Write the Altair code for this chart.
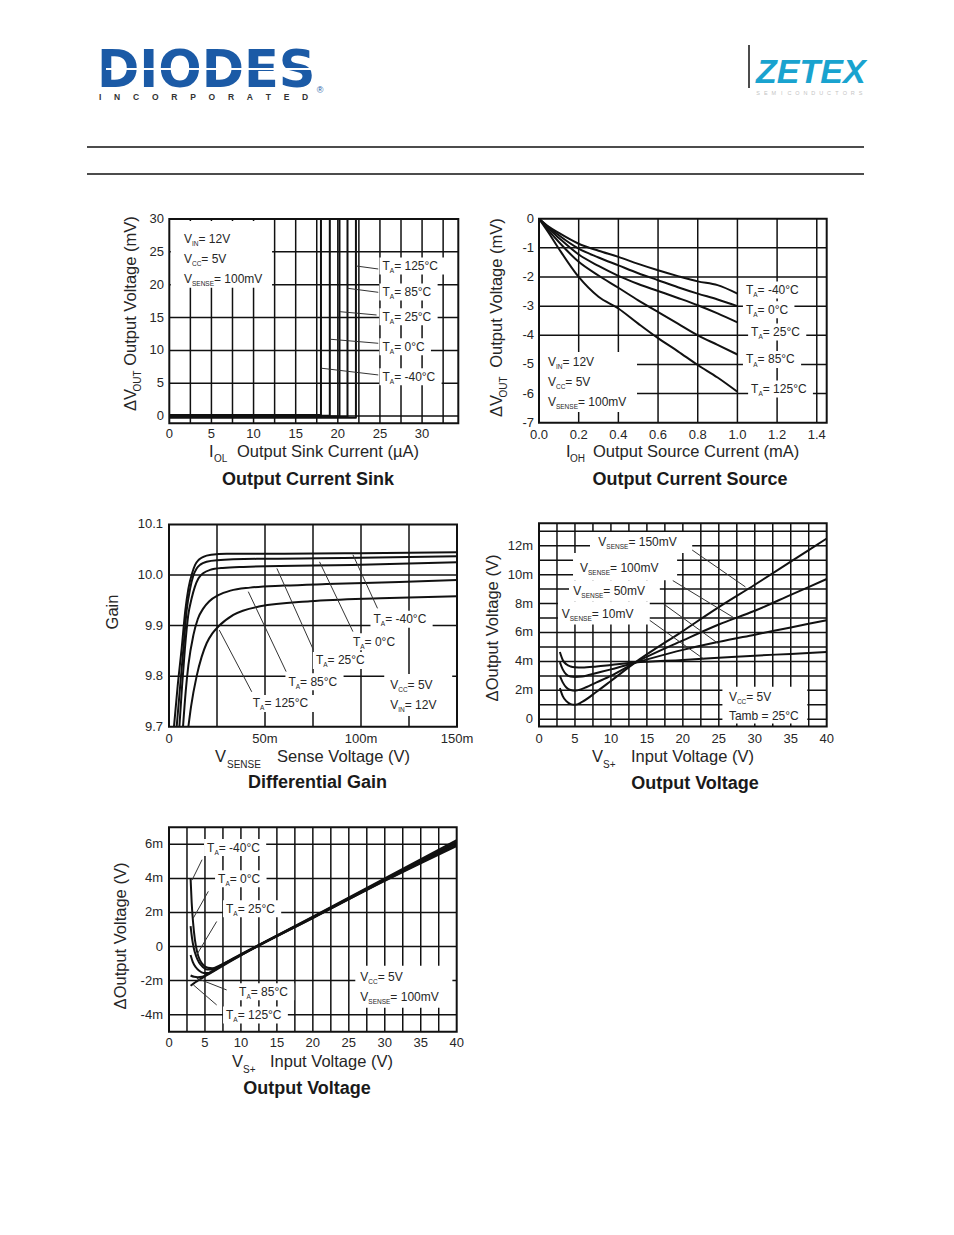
import altair as alt
import pandas as pd

M = 8
PAGE_W, PAGE_H = 954, 1235
FONT = "Liberation Sans"
INK = "#111111"
TXT = "#262626"

# ---------------- data ----------------
# Panel 1: Output Current Sink
sink_temps = ["-40°C", "0°C", "25°C", "85°C", "125°C"]
sink_knee_uA = [18.0, 19.05, 20.2, 21.15, 22.15]
sink_base_mV = [0.15, 0.05, -0.05, -0.15, -0.25]
sink_top_mV = [30, 30, 30, 30, 30]

# Panel 2: Output Current Source
src_I_mA = [0.0, 0.05, 0.1, 0.2, 0.3, 0.4, 0.5, 0.6, 0.7, 0.8, 0.9, 1.0]
src_m40 = [0, -0.28, -0.49, -0.86, -1.10, -1.31, -1.55, -1.77, -1.97, -2.15, -2.28, -2.57]
src_0 = [0, -0.30, -0.57, -1.03, -1.33, -1.60, -1.87, -2.11, -2.35, -2.57, -2.77, -3.00]
src_25 = [0, -0.35, -0.66, -1.23, -1.62, -1.96, -2.24, -2.48, -2.72, -2.97, -3.25, -3.56]
src_85 = [0, -0.42, -0.80, -1.48, -1.95, -2.37, -2.80, -3.20, -3.60, -4.00, -4.33, -4.66]
src_125 = [0, -0.50, -1.03, -2.00, -2.68, -3.08, -3.60, -4.10, -4.55, -5.02, -5.45, -5.94]

# Panel 3: Differential Gain (x in mV)
gain_m40_mV = [2.6, 4.5, 6.6, 8.5, 10.1, 12, 13.6, 15.5, 17.9, 22, 30, 60, 100, 150]
gain_m40 = [9.70, 9.78, 9.855, 9.93, 9.973, 10.003, 10.02, 10.03, 10.036, 10.040, 10.042, 10.042, 10.043, 10.045]
gain_0_mV = [4.0, 5.8, 7.5, 9.2, 11, 12.6, 14.4, 16.5, 19.6, 25, 47.5, 100, 150]
gain_0 = [9.70, 9.78, 9.855, 9.93, 9.973, 9.998, 10.013, 10.021, 10.026, 10.029, 10.032, 10.034, 10.037]
gain_25_mV = [5.4, 6.8, 8.3, 10, 11.8, 13.5, 15.3, 18, 21.4, 28, 38.8, 100, 150]
gain_25 = [9.70, 9.78, 9.855, 9.92, 9.954, 9.977, 9.993, 10.004, 10.01, 10.014, 10.016, 10.02, 10.025]
gain_85_mV = [7.3, 8.7, 10.1, 12.7, 15, 17.9, 21, 25.7, 32, 42.2, 60, 82, 120, 150]
gain_85 = [9.70, 9.77, 9.822, 9.881, 9.913, 9.934, 9.948, 9.96, 9.969, 9.975, 9.979, 9.982, 9.986, 9.99]
gain_125_mV = [10.1, 11.5, 14.4, 17, 19.6, 22.5, 25.7, 33.5, 47.5, 73.5, 110, 150]
gain_125 = [9.70, 9.74, 9.80, 9.838, 9.865, 9.884, 9.898, 9.921, 9.938, 9.948, 9.954, 9.958]

# Panel 4: Output Voltage vs input voltage, per V_SENSE (mV of dVout)
vin_V = [2.9, 3.3, 3.8, 4.4, 5, 6, 8, 10, 13.3, 20, 25, 30, 35, 40]
out_150 = [2.15, 1.6, 1.25, 1.05, 1.0, 1.2, 1.9, 2.65, 3.9, 6.1, 7.75, 9.3, 10.9, 12.5]
out_100 = [3.0, 2.55, 2.2, 2.02, 1.98, 2.1, 2.55, 3.0, 3.9, 5.45, 6.55, 7.5, 8.6, 9.7]
out_50 = [3.95, 3.45, 3.1, 2.95, 2.92, 2.95, 3.2, 3.45, 3.9, 4.8, 5.35, 5.85, 6.35, 6.85]
out_10 = [4.65, 4.1, 3.8, 3.65, 3.6, 3.58, 3.65, 3.75, 3.92, 4.1, 4.25, 4.4, 4.52, 4.65]

# Panel 5: Output Voltage vs input voltage, per temperature (mV of dVout)
t_m40_V = [3.0, 3.15, 3.35, 3.6, 3.9, 4.3, 4.8, 5.4, 6.0, 7.0, 10, 20, 30, 40]
t_m40 = [4.0, 2.6, 1.4, 0.4, -0.3, -0.8, -1.1, -1.25, -1.28, -1.12, -0.45, 1.75, 4.0, 6.25]
t_0_V = [3.0, 3.2, 3.45, 3.8, 4.2, 4.7, 5.3, 6.0, 7.0, 10, 20, 30, 40]
t_0 = [1.2, 0.5, -0.1, -0.6, -0.95, -1.2, -1.35, -1.35, -1.15, -0.47, 1.73, 3.95, 6.15]
t_25_V = [3.0, 3.3, 3.7, 4.2, 4.8, 5.5, 6.3, 7.0, 10, 20, 30, 40]
t_25 = [-0.5, -0.9, -1.2, -1.42, -1.55, -1.55, -1.4, -1.2, -0.49, 1.71, 3.92, 6.08]
t_85_V = [3.0, 3.5, 4.0, 4.6, 5.2, 6.0, 7.0, 10, 20, 30, 40]
t_85 = [-1.7, -1.78, -1.8, -1.78, -1.65, -1.45, -1.2, -0.5, 1.69, 3.88, 5.98]
t_125_V = [3.0, 3.5, 4.0, 4.6, 5.2, 6.0, 7.0, 10, 20, 30, 40]
t_125 = [-2.3, -2.15, -2.0, -1.85, -1.7, -1.5, -1.25, -0.52, 1.67, 3.85, 5.9]

# tick labels
p1_x_ticks = [0, 5, 10, 15, 20, 25, 30]
p1_y_ticks = [0, 5, 10, 15, 20, 25, 30]
p2_x_ticks = [0.0, 0.2, 0.4, 0.6, 0.8, 1.0, 1.2, 1.4]
p2_x_labels = ["0.0", "0.2", "0.4", "0.6", "0.8", "1.0", "1.2", "1.4"]
p2_y_ticks = [0, -1, -2, -3, -4, -5, -6, -7]
p3_x_ticks = [0, 50, 100, 150]
p3_x_labels = ["0", "50m", "100m", "150m"]
p3_y_ticks = [9.7, 9.8, 9.9, 10.0, 10.1]
p3_y_labels = ["9.7", "9.8", "9.9", "10.0", "10.1"]
p4_x_ticks = [0, 5, 10, 15, 20, 25, 30, 35, 40]
p4_y_ticks = [0, 2, 4, 6, 8, 10, 12]
p4_y_labels = ["0", "2m", "4m", "6m", "8m", "10m", "12m"]
p5_x_ticks = [0, 5, 10, 15, 20, 25, 30, 35, 40]
p5_y_ticks = [-4, -2, 0, 2, 4, 6]
p5_y_labels = ["-4m", "-2m", "0", "2m", "4m", "6m"]

# ---------------- layout ----------------
G = {
    "p1": dict(xd=[0, 34.3], xr=[169.3, 458.3], yd=[-1.1, 30], yr=[423.3, 219.0]),
    "p2": dict(xd=[0, 1.45], xr=[539.0, 826.7], yd=[-7, 0], yr=[422.7, 218.7]),
    "p3": dict(xd=[0, 150], xr=[169.0, 457.0], yd=[9.7, 10.1], yr=[726.7, 524.4]),
    "p4": dict(xd=[0, 40], xr=[539.0, 826.7], yd=[-0.5, 13.55], yr=[726.5, 523.3]),
    "p5": dict(xd=[0, 40], xr=[169.0, 456.7], yd=[-5, 7], yr=[1031.7, 827.3]),
}

CW = {' ': .278, '=': .584, '-': .333, '.': .278, '°': .4, '(': .333, ')': .333, '+': .584,
      'µ': .576, 'Δ': .668, 'A': .667, 'C': .722, 'E': .667, 'I': .278, 'N': .722, 'O': .778,
      'S': .667, 'T': .611, 'V': .667, 'H': .722, 'L': .556, 'U': .722, 'm': .833, 'a': .556,
      'b': .556, 'i': .222, 'l': .222, 'r': .333, 't': .278}


def tw(s, size):
    return size * sum(CW.get(c, 0.556) for c in s)


def sc(d, r):
    return alt.Scale(domain=list(d), range=[r[0] - M, r[1] - M], nice=False, zero=False)


def ex(p, f="x"):
    return alt.X(f"{f}:Q", scale=sc(G[p]["xd"], G[p]["xr"]), axis=None)


def ey(p, f="y"):
    return alt.Y(f"{f}:Q", scale=sc(G[p]["yd"], G[p]["yr"]), axis=None)


def px_x():
    return alt.X("x:Q", scale=alt.Scale(domain=[0, PAGE_W], range=[-M, PAGE_W - M], nice=False, zero=False), axis=None)


def px_y():
    return alt.Y("y:Q", scale=alt.Scale(domain=[0, PAGE_H], range=[-M, PAGE_H - M], nice=False, zero=False), axis=None)


def grid(p, xs, ys, width=1.5):
    g = G[p]
    out = []
    if xs:
        out.append(alt.Chart(pd.DataFrame({"x": xs})).mark_rule(color=INK, strokeWidth=width).encode(
            x=ex(p), y=alt.value(g["yr"][1] - M), y2=alt.value(g["yr"][0] - M)))
    if ys:
        out.append(alt.Chart(pd.DataFrame({"y": ys})).mark_rule(color=INK, strokeWidth=width).encode(
            y=ey(p), x=alt.value(g["xr"][0] - M), x2=alt.value(g["xr"][1] - M)))
    return out


def border(p):
    g = G[p]
    df = pd.DataFrame({"x": [g["xd"][0]], "x2": [g["xd"][1]], "y": [g["yd"][0]], "y2": [g["yd"][1]]})
    return alt.Chart(df).mark_rect(fillOpacity=0, stroke=INK, strokeWidth=2).encode(
        x=ex(p), x2="x2:Q", y=ey(p), y2="y2:Q")


def xticks(p, vals, labels, ypx):
    df = pd.DataFrame({"x": vals, "t": [str(v) for v in labels]})
    return alt.Chart(df).mark_text(font=FONT, fontSize=13, color=TXT, align="center", baseline="middle").encode(
        x=ex(p), y=alt.value(ypx - M), text="t:N")


def yticks(p, vals, labels, xpx):
    df = pd.DataFrame({"y": vals, "t": [str(v) for v in labels]})
    return alt.Chart(df).mark_text(font=FONT, fontSize=13, color=TXT, align="right", baseline="middle").encode(
        y=ey(p), x=alt.value(xpx - M), text="t:N")


def curves(p, series, width=2.0, interp="linear"):
    rows = []
    for name, xs, ys in series:
        for i, (a, b) in enumerate(zip(xs, ys)):
            rows.append({"s": name, "i": i, "x": a, "y": b})
    return alt.Chart(pd.DataFrame(rows)).mark_line(color=INK, strokeWidth=width, strokeJoin="round",
                                                   interpolate=interp).encode(
        x=ex(p), y=ey(p), detail="s:N", order="i:Q")


def boxes(p, rects):
    df = pd.DataFrame(rects, columns=["x", "x2", "y", "y2"])
    return alt.Chart(df).mark_rect(color="white").encode(x=ex(p), x2="x2:Q", y=ey(p), y2="y2:Q")


def leaders(p, segs):
    df = pd.DataFrame(segs, columns=["x", "y", "x2", "y2"])
    return alt.Chart(df).mark_rule(color="#333333", strokeWidth=1).encode(x=ex(p), y=ey(p), x2="x2:Q", y2="y2:Q")


def label_layers(p, items, size=12, sub=6.5, auto_box=True):
    g = G[p]
    ppx = (g["xr"][1] - g["xr"][0]) / (g["xd"][1] - g["xd"][0])
    ppy = (g["yr"][0] - g["yr"][1]) / (g["yd"][1] - g["yd"][0])
    bx = []
    groups = {}
    for x, y, parts in items:
        w = sum(tw(t, sub if s else size) for t, s in parts)
        bx.append((x - 3 / ppx, x + (w + 3) / ppx, y - 8.5 / ppy, y + 8.5 / ppy))
        groups.setdefault(tuple(parts[:-1]), []).append((x, y, parts[-1][0]))
    out = [boxes(p, bx)] if auto_box else []
    for key, rows in groups.items():
        df = pd.DataFrame(rows, columns=["x", "y", "t"])
        off = 0.0
        for txt, is_sub in key:
            fs = sub if is_sub else size
            out.append(alt.Chart(df).mark_text(text=txt, font=FONT, fontSize=fs, color=TXT, align="left",
                                               baseline="middle", dx=off, dy=(0.42 * size if is_sub else 0)).encode(
                x=ex(p), y=ey(p)))
            off += tw(txt, fs)
        out.append(alt.Chart(df).mark_text(font=FONT, fontSize=size, color=TXT, align="left",
                                           baseline="middle", dx=off).encode(x=ex(p), y=ey(p), text="t:N"))
    return out


def TA(rest):
    return [("T", False), ("A", True), (rest, False)]


def VS(sub, rest):
    return [("V", False), (sub, True), (rest, False)]


def ptext(rows, size, color=TXT, align="left", baseline="middle", weight="normal", angle=None,
          font=FONT, style="normal"):
    df = pd.DataFrame(rows, columns=["x", "y", "t"])
    kw = dict(font=font, fontSize=size, color=color, align=align, baseline=baseline,
              fontWeight=weight, fontStyle=style)
    if angle is not None:
        kw["angle"] = angle
    return alt.Chart(df).mark_text(**kw).encode(x=px_x(), y=px_y(), text="t:N")


def prule(rows, width, color=INK):
    df = pd.DataFrame(rows, columns=["x", "y", "x2", "y2"])
    return alt.Chart(df).mark_rule(color=color, strokeWidth=width).encode(
        x=px_x(), y=px_y(), x2="x2:Q", y2="y2:Q")


L = []

# ---------------- header ----------------
BLUE = "#1b5aa6"
GAP = "\u2002\u2002\u2002"
L.append(ptext([(97, 87, "DIODES")], 51, color=BLUE, baseline="alphabetic", weight="bold", font="DejaVu Sans"))
L.append(prule([(106, 69, 312, 69)], 2.2, color="white"))
L.append(ptext([(99, 97, GAP.join("INCORPORATED"))], 8.5, color="#333333", weight="bold"))
L.append(ptext([(320, 90, "®")], 9, color=BLUE, align="center"))
L.append(prule([(749, 45, 749, 88)], 1.5))
L.append(ptext([(756, 83, "ZETEX")], 34, color="#19a3cf", baseline="alphabetic", weight="bold",
               style="italic", font="Liberation Sans"))
L.append(ptext([(758 + 7.9 * i, 93, ch) for i, ch in enumerate("SEMICONDUCTORS")], 5.5, color="#c4c4c4",
               align="center"))
L.append(prule([(87, 147, 864, 147), (87, 174, 864, 174)], 1.5))

# ---------------- panel 1 ----------------
L += grid("p1", [2.5 * k for k in range(1, 14)], [0, 5, 10, 15, 20, 25])
L.append(boxes("p1", [(0.17, 12.2, 19.55, 29.7)]))
L.append(curves("p1", [(t, [0, k, k], [b, b, top]) for t, k, b, top in
                        zip(sink_temps, sink_knee_uA, sink_base_mV, sink_top_mV)]))
L += label_layers("p1", [(1.74, 26.95, VS("IN", " = 12V")), (1.74, 23.9, VS("CC", " = 5V")),
                         (1.74, 20.87, VS("SENSE", " = 100mV"))], auto_box=False)
L += label_layers("p1", [(25.3, 22.85, TA(" = 125°C")), (25.3, 18.89, TA(" = 85°C")),
                         (25.3, 15.13, TA(" = 25°C")), (25.3, 10.56, TA(" = 0°C")),
                         (25.3, 6.0, TA(" = -40°C"))])
L.append(leaders("p1", [(22.16, 22.85, 24.8, 22.39), (21.17, 19.45, 24.8, 18.84), (20.26, 15.89, 24.6, 15.39),
                        (19.15, 11.69, 24.8, 11.08), (18.09, 7.28, 24.8, 6.26)]))
L.append(border("p1"))
L.append(xticks("p1", p1_x_ticks, p1_x_ticks, 434))
L.append(yticks("p1", p1_y_ticks, p1_y_ticks, 164))

# ---------------- panel 2 ----------------
L += grid("p2", [0.2, 0.4, 0.6, 0.8, 1.0, 1.2, 1.4], [-1, -2, -3, -4, -5, -6])
L.append(boxes("p2", [(0.0, 0.494, -6.63, -4.57)]))
L.append(curves("p2", [("-40°C", src_I_mA, src_m40), ("0°C", src_I_mA, src_0), ("25°C", src_I_mA, src_25),
                        ("85°C", src_I_mA, src_85), ("125°C", src_I_mA, src_125)], interp="monotone"))
L += label_layers("p2", [(0.045, -4.92, VS("IN", " = 12V")), (0.045, -5.6, VS("CC", " = 5V")),
                         (0.045, -6.29, VS("SENSE", " = 100mV"))], auto_box=False)
L += label_layers("p2", [(1.043, -2.45, TA(" = -40°C")), (1.043, -3.12, TA(" = 0°C")),
                         (1.069, -3.89, TA(" = 25°C")), (1.043, -4.83, TA(" = 85°C")),
                         (1.069, -5.84, TA(" = 125°C"))])
L.append(border("p2"))
L.append(xticks("p2", p2_x_ticks, p2_x_labels, 435))
L.append(yticks("p2", p2_y_ticks, p2_y_ticks, 534))

# ---------------- panel 3 ----------------
L += grid("p3", [25, 50, 75, 100, 125], [9.8, 9.9, 10.0])
L.append(boxes("p3", [(112.1, 147.5, 9.721, 9.804)]))
L.append(curves("p3", [("-40°C", gain_m40_mV, gain_m40), ("0°C", gain_0_mV, gain_0),
                        ("25°C", gain_25_mV, gain_25), ("85°C", gain_85_mV, gain_85),
                        ("125°C", gain_125_mV, gain_125)], interp="monotone"))
L += label_layers("p3", [(106.5, 9.9125, TA(" = -40°C")), (95.8, 9.868, TA(" = 0°C")),
                         (76.5, 9.831, TA(" = 25°C")), (62.2, 9.789, TA(" = 85°C")),
                         (43.6, 9.746, TA(" = 125°C"))])
L.append(leaders("p3", [(95.8, 10.040, 108.6, 9.934), (78.4, 10.026, 95.8, 9.888), (56.2, 10.013, 75.2, 9.852),
                        (41.3, 9.967, 61.0, 9.809), (26.2, 9.891, 43.1, 9.769)]))
L += label_layers("p3", [(115.2, 9.783, VS("CC", " = 5V")), (115.2, 9.743, VS("IN", " = 12V"))],
                  auto_box=False)
L.append(border("p3"))
L.append(xticks("p3", p3_x_ticks, p3_x_labels, 739))
L.append(yticks("p3", p3_y_ticks, p3_y_labels, 163))

# ---------------- panel 4 ----------------
L += grid("p4", [2.5 * k for k in range(1, 16)], list(range(0, 14)))
L.append(boxes("p4", [(7.09, 21.3, 11.49, 12.95), (4.73, 19.2, 9.62, 11.49), (4.17, 16.8, 8.16, 9.62),
                      (2.64, 15.4, 6.56, 8.16), (25.5, 37.3, -0.3, 2.25)]))
L.append(curves("p4", [("150mV", vin_V, out_150), ("100mV", vin_V, out_100), ("50mV", vin_V, out_50),
                        ("10mV", vin_V, out_10)], interp="monotone"))
L.append(leaders("p4", [(21.3, 11.70, 28.7, 9.15), (18.6, 9.59, 27.0, 7.05), (17.3, 7.98, 25.0, 5.21),
                        (15.4, 6.84, 22.9, 4.17)]))
L += label_layers("p4", [(8.25, 12.28, VS("SENSE", " = 150mV")), (5.7, 10.49, VS("SENSE", " = 100mV")),
                         (4.77, 8.89, VS("SENSE", " = 50mV")), (3.16, 7.31, VS("SENSE", " = 10mV")),
                         (26.4, 1.56, VS("CC", " = 5V"))], auto_box=False)
L += label_layers("p4", [(26.4, 0.24, [("Tamb = 25°C", False)])], auto_box=False)
L.append(border("p4"))
L.append(xticks("p4", p4_x_ticks, p4_x_ticks, 739))
L.append(yticks("p4", p4_y_ticks, p4_y_labels, 533))

# ---------------- panel 5 ----------------
L += grid("p5", [2.5 * k for k in range(1, 16)], [-4, -2, 0, 2, 4, 6])
L.append(boxes("p5", [(25.9, 39.4, -3.6, -1.13)]))
L += label_layers("p5", [(5.29, 5.81, TA(" = -40°C")), (6.82, 3.98, TA(" = 0°C")),
                         (7.93, 2.22, TA(" = 25°C")), (9.74, -2.66, TA(" = 85°C")),
                         (7.93, -4.02, TA(" = 125°C"))])
L.append(curves("p5", [("-40°C", t_m40_V, t_m40), ("0°C", t_0_V, t_0), ("25°C", t_25_V, t_25),
                        ("85°C", t_85_V, t_85), ("125°C", t_125_V, t_125)], interp="monotone"))
L.append(leaders("p5", [(4.6, 5.1, 3.2, 3.9), (5.47, 3.24, 3.38, 1.67), (6.63, 1.47, 3.85, -0.49),
                        (8.02, -2.55, 3.85, -1.86), (6.63, -3.43, 3.38, -2.25)]))
L += label_layers("p5", [(26.6, -1.78, VS("CC", " = 5V")), (26.6, -2.96, VS("SENSE", " = 100mV"))],
                  auto_box=False)
L.append(border("p5"))
L.append(xticks("p5", p5_x_ticks, p5_x_ticks, 1043))
L.append(yticks("p5", p5_y_ticks, p5_y_labels, 163))

# ---------------- axis titles & chart titles ----------------
AT = 16.5
L.append(ptext([(209, 452, "I"), (237, 452, "Output Sink Current (µA)"),
                (566, 452, "I"), (593, 452, "Output Source Current (mA)"),
                (215, 757, "V"), (277, 757, "Sense Voltage (V)"),
                (592, 757, "V"), (631, 757, "Input Voltage (V)"),
                (232, 1062, "V"), (270, 1062, "Input Voltage (V)")], AT))
L.append(ptext([(214, 459, "OL"), (570, 459, "OH"), (227, 765, "SENSE"), (603, 765, "S+"),
                (243, 1070, "S+")], 10))
L.append(ptext([(131, 291, "Output Voltage (mV)"), (131, 400, "ΔV"),
                (497, 293, "Output Voltage (mV)"), (497, 406, "ΔV"),
                (113, 612, "Gain"), (493, 628, "ΔOutput Voltage (V)"),
                (121, 936, "ΔOutput Voltage (V)")], AT, align="center", angle=270))
L.append(ptext([(138, 381, "OUT"), (504, 387, "OUT")], 10, align="center", angle=270))
L.append(ptext([(308, 480, "Output Current Sink"), (690, 480, "Output Current Source"),
                (317.5, 783, "Differential Gain"), (695, 784, "Output Voltage"),
                (307, 1089, "Output Voltage")], 18, color="#1a1a1a", align="center", weight="bold"))

chart = alt.layer(*L).resolve_scale(x="independent", y="independent").properties(
    width=PAGE_W - 2 * M, height=PAGE_H - 2 * M, background="white", padding=0,
    autosize=alt.AutoSizeParams(type="none")
).configure_view(strokeWidth=0)

chart.save("out.html", embed_options={"renderer": "svg", "actions": False})
